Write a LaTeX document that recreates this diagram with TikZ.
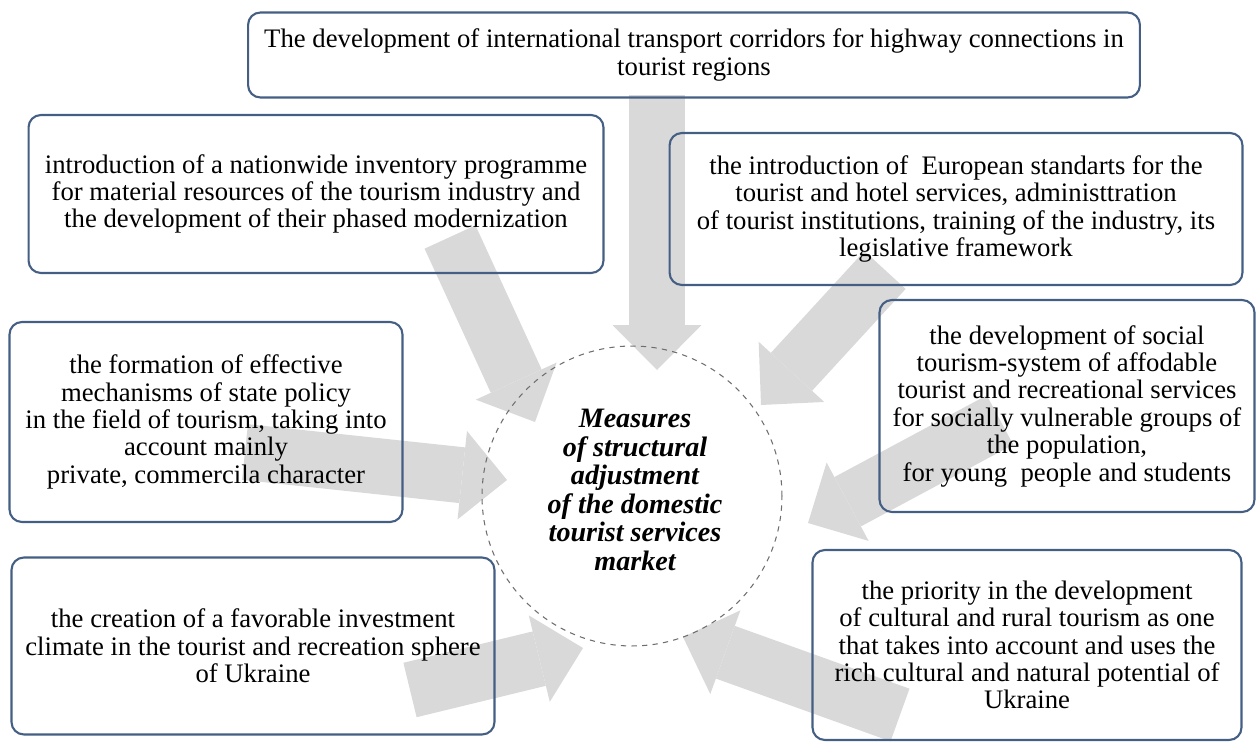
\documentclass[tikz,border=0pt]{standalone}
\usepackage{fontspec}
\setmainfont{Liberation Serif}
\usepackage{tikz}
\usetikzlibrary{arrows.meta,backgrounds}
\definecolor{frameBlue}{RGB}{68,94,132}
\definecolor{arrowGray}{RGB}{217,217,217}
\definecolor{ringGray}{RGB}{110,110,110}

\begin{document}
\begin{tikzpicture}[x=0.02cm,y=-0.02cm,
                measure/.style={rounded corners=7pt,draw=frameBlue,line width=1.2pt,
                               font=\fontsize{15.2}{15.6}\selectfont,
                               inner sep=2pt,align=center},
                hub/.style={circle,draw=ringGray,dashed,line width=0.6pt,minimum size=6cm},
                hubtext/.style={font=\fontsize{16}{16.2}\selectfont\bfseries\itshape,align=center},
                push/.style={draw=arrowGray,line width=1.12cm,
                             -{Triangle[length=0.9cm,width=1.78cm,line width=0pt]}}
            ]
                \useasboundingbox (0,0) rectangle (1258,743);
                \node[hub] (market) at (632,496) {};
                \node[hubtext] (market-text) at (635,490) {Measures\\ of structural\\ adjustment\\ of the domestic\\ tourist services\\ market};
                \node[measure,minimum width=17.84cm,minimum height=1.7cm] (corridors) at (694,55)
                    {The development of international transport corridors for highway connections in\\ tourist regions};
                \node[measure,minimum width=11.5cm,minimum height=3.16cm] (inventory) at (316,194)
                    {introduction of a nationwide inventory programme\\ for material resources of the tourism industry and\\ the development of their phased modernization};
                \node[measure,minimum width=11.46cm,minimum height=3.04cm] (standards) at (956,209)
                    {the introduction of \ European standarts for the\\ tourist and hotel services, administtration\\ of tourist institutions, training of the industry, its\\ legislative framework};
                \node[measure,minimum width=7.86cm,minimum height=4cm] (policy) at (206,422)
                    {the formation of effective\\ mechanisms of state policy\\ in the field of tourism, taking into\\ account mainly\\ private, commercila character};
                \node[measure,minimum width=7.5cm,minimum height=4.24cm] (social) at (1067,406)
                    {the development of social\\ tourism-system of affodable\\ tourist and recreational services\\ for socially vulnerable groups of\\ the population,\\ for young \ people and students};
                \node[measure,minimum width=9.66cm,minimum height=3.54cm] (investment) at (253,646)
                    {the creation of a favorable investment\\ climate in the tourist and recreation sphere\\ of Ukraine};
                \node[measure,minimum width=8.58cm,minimum height=3.8cm] (rural) at (1027,645)
                    {the priority in the development\\ of cultural and rural tourism as one\\ that takes into account and uses the\\ rich cultural and natural potential of\\ Ukraine};

                \coordinate (corridors-out) at (657,95);   \coordinate (corridors-in) at (657,370);
                \coordinate (inventory-out) at (450,237);  \coordinate (inventory-in) at (535,422);
                \coordinate (standards-out) at (885,270);  \coordinate (standards-in) at (761,405);
                \coordinate (policy-out) at (245,452);     \coordinate (policy-in) at (507,480);
                \coordinate (social-out) at (1000,420);    \coordinate (social-in) at (808,523);
                \coordinate (investment-out) at (410,690); \coordinate (investment-in) at (583,648);
                \coordinate (rural-out) at (900,715);      \coordinate (rural-in) at (683,637);

                \begin{scope}[on background layer]
                    \foreach \src in {corridors,inventory,standards,policy,social,investment,rural}
                        \draw[push] (\src-out) -- (\src-in);
                \end{scope}
            \end{tikzpicture}
\end{document}
